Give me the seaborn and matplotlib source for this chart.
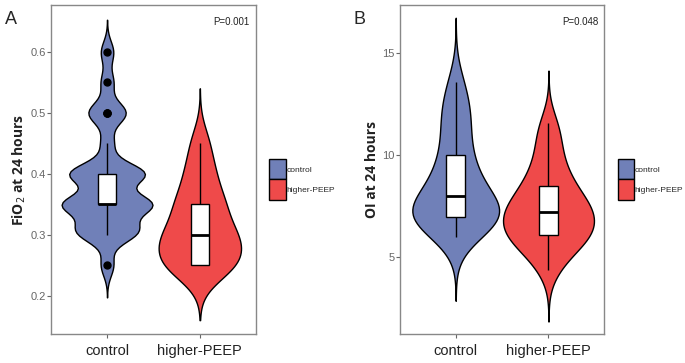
import numpy as np
import pandas as pd
import matplotlib
matplotlib.use("Agg")
import matplotlib.pyplot as plt
from matplotlib.patches import Patch
import seaborn as sns

groups = ["control", "higher-PEEP"]
colors = ["#7080B8", "#EF4A4A"]

# FiO2 at 24 hours (panel A)
fio2_values = [0.25, 0.28, 0.30, 0.31, 0.35, 0.40, 0.45, 0.50, 0.55, 0.60]
fio2_control_counts = [1, 0, 2, 3, 7, 6, 1, 3, 1, 1]
fio2_peep_counts = [7, 2, 6, 0, 5, 3, 2, 0, 0, 0]

# OI at 24 hours (panel B)
oi_control = [6.0, 6.4, 6.6, 6.8, 6.9, 7.0, 7.0, 7.1, 7.2, 7.3, 7.4, 7.6, 8.0,
              8.2, 8.5, 8.8, 9.2, 9.6, 10.0, 10.6, 11.3, 11.8, 12.2, 12.9, 13.6]
oi_peep = [4.4, 5.0, 5.4, 5.7, 5.9, 6.0, 6.1, 6.3, 6.5, 6.7, 6.9, 7.0, 7.2,
           7.4, 7.5, 7.7, 7.9, 8.2, 8.5, 8.8, 9.2, 9.7, 10.3, 11.0, 11.6]

p_values = ["P=0.001", "P=0.048"]


def nrd0(kde):
    # R's bw.nrd0 (ggplot default), returned as a factor of the data std
    x = np.asarray(kde.dataset).ravel()
    sd = np.std(x, ddof=1)
    iqr = np.subtract(*np.percentile(x, [75, 25]))
    lo = min(sd, iqr / 1.34) if iqr > 0 else sd
    bw = 0.9 * lo * len(x) ** -0.2
    return bw / sd


fio2_df = pd.DataFrame({
    "group": ["control"] * sum(fio2_control_counts) + ["higher-PEEP"] * sum(fio2_peep_counts),
    "value": np.repeat(fio2_values, fio2_control_counts).tolist()
    + np.repeat(fio2_values, fio2_peep_counts).tolist(),
})
oi_df = pd.DataFrame({
    "group": ["control"] * len(oi_control) + ["higher-PEEP"] * len(oi_peep),
    "value": oi_control + oi_peep,
})

sns.set_style("white")
plt.rcParams["font.family"] = ["Liberation Sans", "DejaVu Sans"]

fig = plt.figure(figsize=(6.85, 3.63), dpi=100)
ax_a = fig.add_axes([0.075, 0.08, 0.298, 0.906])
ax_b = fig.add_axes([0.584, 0.08, 0.298, 0.906])

panels = [
    (ax_a, fio2_df, "FiO$_2$ at 24 hours", (0.137, 0.677), [0.2, 0.3, 0.4, 0.5, 0.6], "A"),
    (ax_b, oi_df, "OI at 24 hours", (1.25, 17.35), [5, 10, 15], "B"),
]

for i, (ax, df, ylab, ylim, yticks, tag) in enumerate(panels):
    sns.violinplot(data=df, x="group", y="value", hue="group", order=groups,
                   hue_order=groups, palette=colors, inner=None, cut=3,
                   bw_method=nrd0, density_norm="area", common_norm=True,
                   width=0.98, linewidth=1, linecolor="black", saturation=1,
                   legend=False, ax=ax)
    sns.boxplot(data=df, x="group", y="value", order=groups, width=0.2,
                color="white", linecolor="black", linewidth=1, saturation=1,
                showcaps=False, fliersize=5,
                flierprops=dict(marker="o", markerfacecolor="black",
                                markeredgecolor="black"),
                medianprops=dict(linewidth=2, color="black"), ax=ax)
    ax.set_xlim(-0.6, 1.6)
    ax.set_ylim(*ylim)
    ax.set_yticks(yticks)
    ax.set_yticklabels([f"{t:g}" for t in yticks])
    ax.set_xlabel("")
    ax.set_ylabel(ylab, fontsize=10, fontweight="bold", family=["Open Sans", "DejaVu Sans"],
                  color="#222222", labelpad=2)
    ax.tick_params(axis="y", labelsize=8, labelcolor="#666666", length=3,
                   color="#666666", width=0.8, left=True, pad=1)
    ax.tick_params(axis="x", labelsize=10.5, labelcolor="#222222", length=3,
                   color="#666666", width=0.8, bottom=True, pad=4)
    for sp in ax.spines.values():
        sp.set_color("#888888")
        sp.set_linewidth(1)
    ax.text(0.97, 0.965, p_values[i], transform=ax.transAxes, ha="right",
            va="top", fontsize=7, color="#222222")
    fig.text(ax.get_position().x0 - 0.068, 0.945, tag, fontsize=13,
             ha="left", va="center")
    handles = [Patch(facecolor=c, edgecolor="black", linewidth=1) for c in colors]
    ax.legend(handles, groups, loc="center left", bbox_to_anchor=(1.05, 0.47),
              frameon=False, handlelength=2.0, handleheight=3.4,
              handletextpad=0.05, labelspacing=0.0, borderaxespad=0,
              prop={"size": 6, "family": ["Liberation Sans Narrow", "Liberation Sans"]})

fig.savefig("out.png", dpi=100)
